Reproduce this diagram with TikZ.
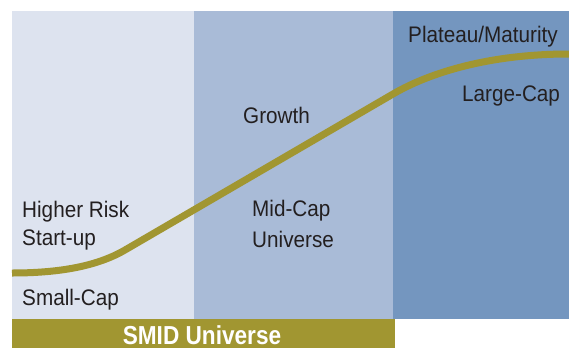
\documentclass[tikz,border=0pt]{standalone}
\usepackage{fontspec}
\setmainfont{Liberation Sans}
\definecolor{pleft}{HTML}{DDE3EF}
\definecolor{pmid}{HTML}{A9BBD7}
\definecolor{pright}{HTML}{7496BF}
\definecolor{olive}{HTML}{A19631}
\definecolor{ink}{HTML}{231F20}
\begin{document}
\begin{tikzpicture}[x=1pt,y=-1pt,
  lbl/.style={anchor=base west,inner sep=0pt,text=ink,font=\fontsize{22.5}{28}\selectfont\addfontfeature{FakeStretch=0.92},align=left},
  curve/.style={draw=olive,line width=7pt}]
\useasboundingbox (0,0) rectangle (569,348);
\fill[pleft] (12,11) rectangle (194,319);
\fill[pmid] (194,11) rectangle (393,319);
\fill[pright] (393,11) rectangle (569,319);
\fill[olive] (12,319) rectangle (395,348);
\node (smid) at (202,344) [anchor=base,inner sep=0pt,text=white,font=\fontsize{26}{28}\bfseries\addfontfeature{FakeStretch=0.87}] {SMID Universe};
\coordinate (c0) at (12,273);
\coordinate (c1) at (125,250);
\coordinate (c2) at (393,94);
\coordinate (c3) at (569,54);
\draw[curve] (c0) .. controls (55,273) and (95,267.5) .. (c1) -- (c2) .. controls (430,72.4) and (490,54) .. (c3);
\node[lbl] (hr) at (22,217) {Higher Risk};
\node[lbl] (su) at (22,245) {Start-up};
\node[lbl] (sc) at (22,305) {Small-Cap};
\node[lbl] (gr) at (243,123) {Growth};
\node[lbl] (mc) at (252,216) {Mid-Cap};
\node[lbl] (un) at (252,247) {Universe};
\node[lbl] (pm) at (408,42) {Plateau/Maturity};
\node[lbl] (lc) at (462,101) {Large-Cap};
\end{tikzpicture}
\end{document}
